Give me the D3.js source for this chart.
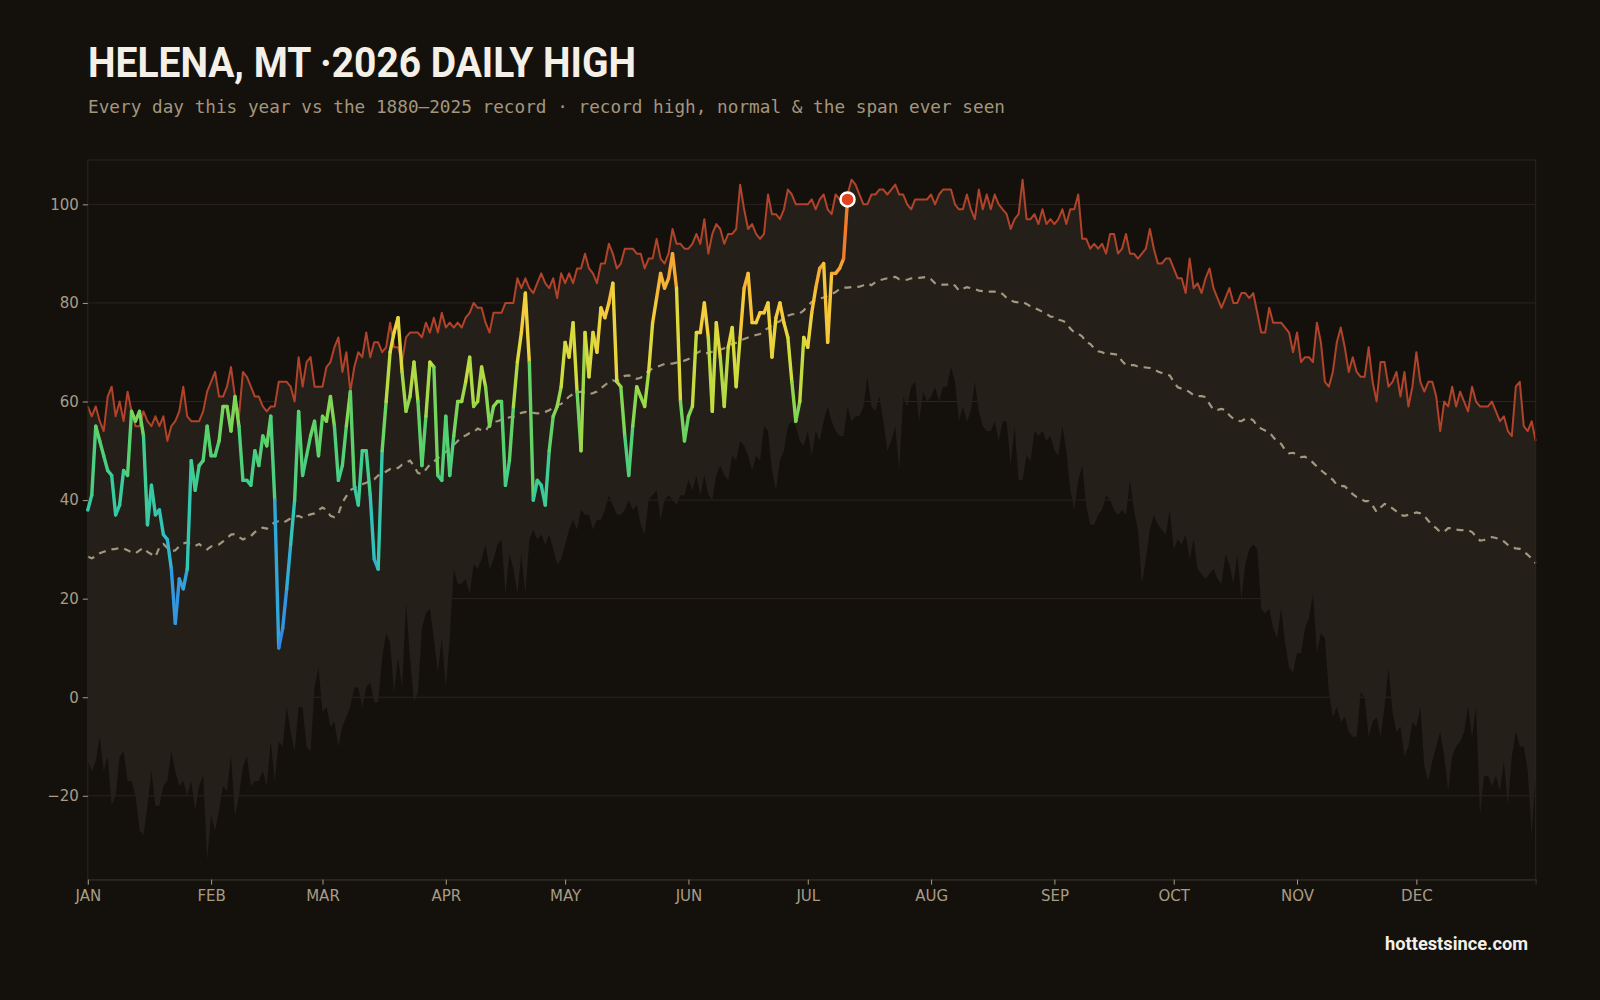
<!DOCTYPE html>
<html><head><meta charset="utf-8">
<script src="https://cdn.jsdelivr.net/npm/d3@7"></script>
<style>
html,body{margin:0;padding:0;background:#14110d;}
svg{display:block;}
</style></head><body>
<svg id="chart" width="1600" height="1000"></svg>
<script>
// ---------- DATA ----------
const monthLabels = ["JAN","FEB","MAR","APR","MAY","JUN","JUL","AUG","SEP","OCT","NOV","DEC"];
const yTickValues = [-20, 0, 20, 40, 60, 80, 100];

// Record high 1880–2025, one value per day (Jan 1 .. Dec 31)
const recordHigh = [
59,57,59,56,54,61,63,57,60,56, 62,58,55,55,58,56,55,57,55,57,
52,55,56,58,63,57,56,56,56,58, 62,64,66,61,61,63,67,61,57,66,
65,63,61,61,59,58,59,59,64,64, 64,63,60,69,63,68,69,63,63,63,
67,68,71,73,66,70,62,67,70,69, 74,69,72,72,70,71,76,71,71,68,
73,74,74,74,73,76,74,77,74,78, 75,76,75,76,75,77,78,80,79,79,
76,74,78,78,78,80,80,80,85,83, 85,83,82,84,86,84,83,85,81,86,
84,86,84,87,87,90,87,86,84,88, 88,92,90,87,88,91,91,91,90,90,
87,89,89,93,89,88,90,95,92,92, 91,91,92,94,92,97,90,94,96,95,
92,94,94,95,104,99,95,96,94,93, 94,102,98,98,97,99,103,102,100,100,
100,100,101,99,101,102,99,98,102,101, 101,102,105,104,102,100,100,102,102,103,
103,102,103,104,102,102,100,99,101,101, 101,101,102,100,102,103,103,103,100,99,
99,102,99,97,103,99,102,99,102,100, 99,98,95,97,98,105,97,97,98,96,
99,96,97,96,97,99,96,99,99,102, 93,93,91,92,91,92,90,94,94,90,
91,94,90,90,89,90,91,95,91,88, 88,89,89,87,85,85,82,89,83,84,
82,85,87,83,81,79,81,83,80,80, 82,82,81,82,78,74,74,79,76,76,
76,75,74,70,74,68,69,69,68,76, 72,64,63,66,72,75,71,66,69,66,
65,65,71,64,60,68,68,63,64,66, 61,66,59,63,70,64,62,64,64,61,
54,60,59,63,59,62,60,58,63,60, 59,59,59,60,58,56,57,54,53,63,
64,55,54,56,52
];

// Record low of the daily high 1880–2025 (bottom of the span ever seen)
const recordLow = [
-13,-15,-13,-8,-15,-12,-22,-20,-12,-11, -17,-17,-20,-27,-28,-22,-15,-22,-22,-18,
-17,-11,-15,-18,-17,-20,-17,-23,-18,-16, -33,-24,-27,-23,-18,-19,-12,-24,-20,-14,
-12,-18,-17,-17,-15,-18,-9,-17,-9,-10, -2,-7,-11,-2,-2,-10,-11,2,6,-3,
-2,-6,-5,-10,-6,-4,-2,2,2,-2, 2,3,-1,-1,8,13,11,1,8,2,
19,8,-1,1,14,17,18,12,5,12, 2,12,26,23,23,24,21,27,26,28,
31,26,28,31,32,21,29,26,21,29, 21,32,34,32,33,31,33,30,27,28,
31,34,36,34,38,37,37,34,36,36, 38,41,39,37,37,38,40,38,39,35,
33,40,41,42,36,40,41,40,39,41, 41,44,42,45,41,45,41,40,45,47,
45,44,49,48,52,51,49,46,49,48, 55,54,46,42,48,50,55,56,55,52,
51,54,49,54,52,56,59,56,54,53, 53,59,56,57,57,59,65,59,58,61,
56,50,52,55,46,61,59,63,64,56, 62,60,61,63,60,63,63,67,64,56,
59,56,58,64,58,55,54,54,56,52, 56,56,47,55,44,44,49,48,54,53,
54,52,53,50,49,55,50,42,38,44, 47,39,35,35,37,38,41,40,38,37,
38,37,44,38,34,23,28,34,37,35, 34,33,38,30,32,31,33,28,32,26,
25,24,25,26,24,23,29,27,23,29, 20,27,30,31,30,18,17,18,14,12,
18,11,6,5,9,9,14,16,21,9, 13,12,1,-4,-2,-5,-4,-7,-8,-8,
1,0,-8,-5,-4,-8,-2,6,-3,-7, -6,-12,-10,-5,-6,-2,-14,-17,-13,-10,
-7,-12,-19,-12,-10,-9,-7,-2,-8,-2, -24,-16,-16,-18,-16,-19,-13,-22,-12,-7,
-10,-10,-15,-28,-15
];

// Normal daily high
const normalHigh = [
28.5,28.2,28.6,29.2,29.5,29.8,30,30.1,30.3,30.2, 29.8,29.4,29.2,29.8,30.3,29.5,29,28.5,30.4,31.1,
30.3,29.6,29.8,30.6,31.2,31.4,31,30.7,31.1,30.4, 30,30.6,30.8,31,31.6,32.3,33,33.1,32.5,32,
32.4,32.7,33.5,34,34.4,34.2,34.9,35.5,35.7,35.4, 35.8,36.3,36.6,36.8,36.4,36.8,37.1,37.3,38,38.5,
38,36.8,36.5,37.2,39.5,40.8,42,42.5,42.9,43.2, 43.5,43.9,44.2,45,45.3,45.8,46.3,46.6,46.5,47.2,
47.6,48,46.9,45.5,45.3,46.2,47.2,47.8,48.5,49.2, 49.8,50.5,51.2,52,52.8,53.1,53.6,53.8,54.5,54.2,
54,55.3,55.9,56,56.3,56.4,56.8,56.9,57.3,57.7, 57.9,57.6,57.7,57.6,57.6,57.9,58.2,58.8,59.3,59.5,
60.2,61,61.5,61.8,62,61.8,61.5,61.7,62,62.7, 63.3,64,64.3,64.1,64.7,65.2,65.3,65.1,64.6,64.8,
65.6,66.2,66.7,67,67.3,67.6,67.7,67.7,67.9,68.1, 68.3,68.6,69.2,69.8,70.2,69.8,69.8,70.1,70.3,70.5,
70.8,71.2,71.7,71.9,72.3,72.7,73,73.3,73.5,73.7, 74.4,74.9,75.4,76,76.3,76.9,77.4,77.7,77.7,77.9,
78.5,79.4,80.2,80.6,80.9,81.1,81.5,81.8,82.2,82.8, 83.1,83.1,83.2,83.2,83.3,83.6,84,83.6,84.2,84.6,
84.8,85,85.2,85.3,84.8,84.7,84.7,85,85,85.1, 85.2,85.3,84.8,84,83.6,83.7,83.7,84,83.5,82.5,
82.9,83.2,83,82.8,82.5,82.4,82.3,82.3,82.3,82.3, 81.8,81,80.5,80.2,80.1,80.2,79.8,79.3,79,78.6,
78.2,77.8,77.2,77.2,76.6,76.4,76,74.8,74,73.8, 73.2,72,71.7,70.8,70.2,70,69.6,69.7,69.6,69.5,
68.2,67.4,67.4,67.4,67.1,67,66.9,66.8,66.6,66.1, 65.8,65.5,65.3,64,62.9,62.6,62.4,61.9,61.3,61.1,
61.1,60.9,59.5,58.3,58.3,58.5,58.3,57.2,56.5,56.1, 56,56.5,56.6,56.2,55,54.5,54.1,53.8,52.8,51.9,
51.4,50.2,49.5,49.6,49.2,48.7,48.8,48.3,47.6,46.8, 46.1,45.4,44.8,44.1,43.1,42.9,42.8,42,41.2,40.6,
40.3,39.8,39.8,38.9,37.6,38.5,39.2,39,38.3,37.7, 37,36.8,37,37.2,37.5,37.3,36.8,35.8,34.9,34.3,
33.5,33.6,34.3,34.3,34,33.9,33.9,33.9,33.5,32.6, 31.8,31.9,32.3,32.5,32.3,32.1,31.6,30.9,30.4,30.2,
30.1,29.6,28.9,28.1,27.2
];

// 2026 daily highs so far (Jan 1 .. Jul 11)
const high2026 = [
38,41,55,52,49,46,45,37,39,46, 45,58,56,58,53,35,43,37,38,33,
32,26,15,24,22,26,48,42,47,48, 55,49,49,52,59,59,54,61,55,44,
44,43,50,47,53,51,57,40,10,14, 22,31,40,58,45,49,53,56,49,57,
56,61,55,44,47,55,62,43,39,50, 50,41,28,26,50,60,70,74,77,66,
58,61,68,60,47,57,68,67,45,44, 57,45,53,60,60,64,69,59,60,67,
63,55,59,60,60,43,48,59,68,74, 82,68,40,44,43,39,50,57,59,63,
72,69,76,62,50,74,65,74,70,79, 77,80,84,64,63,53,45,55,63,61,
59,66,76,81,86,83,85,90,83,60, 52,57,59,74,74,80,73,58,76,69,
59,71,75,63,73,83,86,76,76,78, 78,80,69,77,80,76,73,64,56,60,
73,71,78,83,87,88,72,86,86,87, 89,101
];

// ---------- CHART ----------
(function () {
const W = 1600, H = 1000;
const plotL = 87.8, plotR = 1535.7, plotT = 160, plotB = 879.6;
const svg = d3.select("#chart");
svg.append("rect").attr("width", W).attr("height", H).attr("fill", "#14110d");

const start = new Date(2026, 0, 1);
const dayDate = i => d3.timeDay.offset(start, i);
const x = d3.scaleTime().domain([start, new Date(2026, 11, 31)]).range([plotL, plotR]);
const y = d3.scaleLinear().domain([-37, 109]).range([plotB, plotT]);

const days = d3.range(recordHigh.length).map(i => ({
  date: dayDate(i), hi: recordHigh[i], lo: recordLow[i], nm: normalHigh[i]
}));

// gridlines (below span fill)
svg.append("g").selectAll("line").data(yTickValues).join("line")
  .attr("x1", plotL).attr("x2", plotR)
  .attr("y1", d => y(d)).attr("y2", d => y(d))
  .attr("stroke", "#2a231f").attr("stroke-width", 1);

// span ever seen
svg.append("path").datum(days)
  .attr("d", d3.area().x(d => x(d.date)).y0(d => y(d.lo)).y1(d => y(d.hi)))
  .attr("fill", "#241f18");

// normal (dashed)
svg.append("path").datum(days)
  .attr("d", d3.line().x(d => x(d.date)).y(d => y(d.nm)))
  .attr("fill", "none").attr("stroke", "#a2977f").attr("stroke-width", 2.2)
  .attr("stroke-dasharray", "7,6");

// record high
svg.append("path").datum(days)
  .attr("d", d3.line().x(d => x(d.date)).y(d => y(d.hi)))
  .attr("fill", "none").attr("stroke", "#b1432a").attr("stroke-width", 2)
  .attr("stroke-linejoin", "round");

// frame
svg.append("rect").attr("x", plotL).attr("y", plotT)
  .attr("width", plotR - plotL).attr("height", plotB - plotT)
  .attr("fill", "none").attr("stroke", "#2a2520").attr("stroke-width", 1);

// 2026 line, coloured by temperature per segment
const color = d3.scaleLinear()
  .domain([10, 22, 32, 42, 52, 60, 68, 76, 84, 92, 100])
  .range(["#2f86e6", "#339ce2", "#2ebfc6", "#38cc9c", "#57d16e", "#8fd84e",
          "#cfdd3e", "#f4d23e", "#f7b536", "#f3902f", "#ea5a26"])
  .clamp(true);
const segs = d3.range(1, high2026.length).map(i => ({
  x1: x(dayDate(i - 1)), y1: y(high2026[i - 1]),
  x2: x(dayDate(i)), y2: y(high2026[i]),
  v: (high2026[i - 1] + high2026[i]) / 2
}));
svg.append("g").selectAll("line").data(segs).join("line")
  .attr("x1", d => d.x1).attr("y1", d => d.y1)
  .attr("x2", d => d.x2).attr("y2", d => d.y2)
  .attr("stroke", d => color(d.v)).attr("stroke-width", 3.4)
  .attr("stroke-linecap", "round");

// latest point marker
const li = high2026.length - 1;
svg.append("circle").attr("cx", x(dayDate(li))).attr("cy", y(high2026[li]))
  .attr("r", 7).attr("fill", "#e2421f").attr("stroke", "#ffffff").attr("stroke-width", 2.5);

// axes
const monthStarts = d3.range(12).map(m => new Date(2026, m, 1));
const xAxis = svg.append("g").attr("transform", `translate(0,${plotB})`)
  .call(d3.axisBottom(x).tickValues(monthStarts).tickFormat((d, i) => monthLabels[i])
    .tickSize(5).tickPadding(6));
xAxis.select(".domain").attr("stroke", "#2e2822").attr("stroke-width", 1.5);
xAxis.selectAll(".tick line").attr("stroke", "#a89c84");
xAxis.selectAll("text").attr("fill", "#a89c84")
  .style("font-family", "'DejaVu Sans', sans-serif").style("font-size", "15px");

const yAxis = svg.append("g").attr("transform", `translate(${plotL},0)`)
  .call(d3.axisLeft(y).tickValues(yTickValues).tickSize(5).tickPadding(4));
yAxis.select(".domain").remove();
yAxis.selectAll(".tick line").attr("stroke", "#a89c84");
yAxis.selectAll("text").attr("fill", "#a89c84")
  .style("font-family", "'DejaVu Sans', sans-serif").style("font-size", "15px");

// titles
svg.append("text").attr("x", 88).attr("y", 76.5)
  .attr("textLength", 548).attr("lengthAdjust", "spacingAndGlyphs")
  .attr("fill", "#f4f0e8")
  .style("font-family", "Roboto, sans-serif").style("font-weight", 700).style("font-size", "42px")
  .text("HELENA, MT ·2026 DAILY HIGH");

svg.append("text").attr("x", 88).attr("y", 112.5)
  .attr("textLength", 917).attr("lengthAdjust", "spacingAndGlyphs")
  .attr("fill", "#a3967c")
  .style("font-family", "'DejaVu Sans Mono', monospace").style("font-size", "17.5px")
  .text("Every day this year vs the 1880–2025 record · record high, normal & the span ever seen");

svg.append("text").attr("x", 1385).attr("y", 950)
  .attr("textLength", 143).attr("lengthAdjust", "spacingAndGlyphs")
  .attr("fill", "#f4f0e8")
  .style("font-family", "Roboto, sans-serif").style("font-weight", 700).style("font-size", "18px")
  .text("hottestsince.com");
})();
</script>
</body></html>
